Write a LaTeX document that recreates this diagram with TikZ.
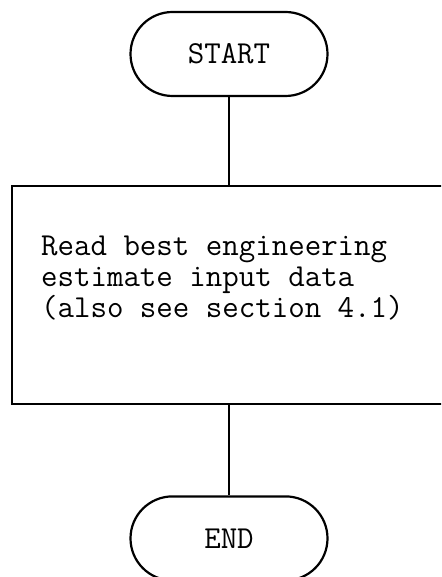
\documentclass[tikz,border=0pt]{standalone}
\usetikzlibrary{positioning}

\tikzset{
	flowpicture/.style = {
		x = 1pt,
		y = -1pt,
		line width = 2.2pt,
		font = \ttfamily\fontsize{32}{31}\selectfont,
		link/.style = {
			draw,
		}
	},
	flowterm/.style = {
		draw,
		rounded corners = 42pt,
		minimum width = 197pt,
		minimum height = 84pt
	},
	flowproc/.style = {
		draw,
		minimum width = 434pt,
		minimum height = 218pt
	},
	flowtext/.style = {
		align = left,
		inner sep = 0pt,
		anchor = west
	}
}

\begin{document}
\begin{tikzpicture}[flowpicture]
	\useasboundingbox (0,0) rectangle (441,577);
	\clip (0,0) rectangle (441,577);

	\node[flowterm] (start) at (229,54) {START};
	\node[flowproc, below = 88pt of start] (read) {};
	\node[flowtext] (readtext) at (40,278) {Read best engineering\\estimate input data\\(also see section 4.1)};
	\node[flowterm, below = 90pt of read] (end) {END};

	\begin{scope}[every path/.style = link]
		\path (start) to (read);
		\path (read) to (end);
	\end{scope}
\end{tikzpicture}
\end{document}
